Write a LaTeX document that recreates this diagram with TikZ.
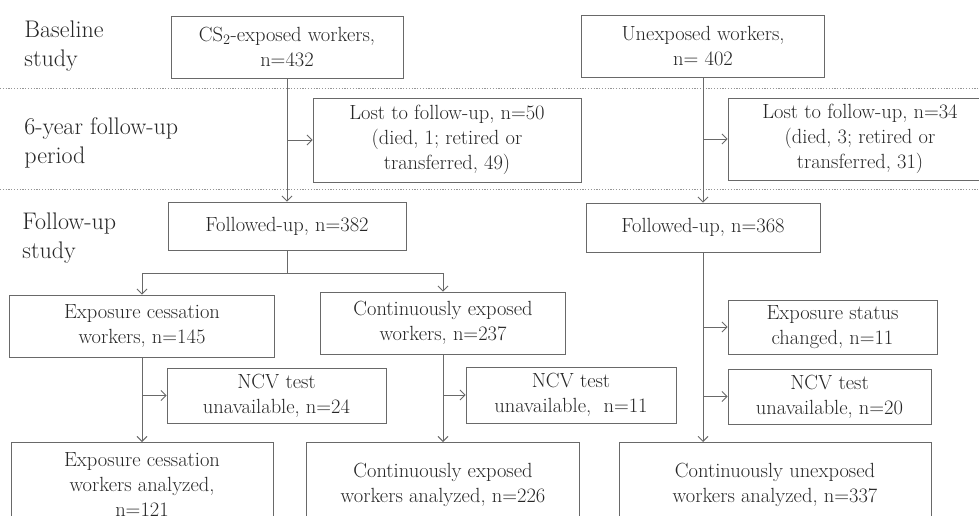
\documentclass[tikz,border=0pt]{standalone}
\usetikzlibrary{arrows.meta}
\definecolor{linegray}{RGB}{105,105,105}
\definecolor{dotgray}{RGB}{150,150,150}
\begin{document}
\begin{tikzpicture}[x=1pt, y=-1pt, line width=0.9pt, >={Straight Barb[length=5pt,width=10pt]},
box/.style={rectangle,draw=linegray,align=center,inner sep=2pt,text=black!85,font=\fontsize{20.5}{25}\selectfont},
stage/.style={anchor=west,align=left,inner sep=0pt,text=black!85,font=\fontsize{24}{29}\selectfont},
dotline/.style={dotgray,line width=0.8pt,dash pattern=on 1.2pt off 1.6pt},
link/.style={linegray,->}]
\useasboundingbox (0,0) rectangle (979,515);
\clip (0,0) rectangle (979,515);
\draw[dotline] (0,88) -- (979,88);
\draw[dotline] (0,189) -- (979,189);
\begin{scope}
\node[stage] (s1) at (24,46) {Baseline\\study};%baseline
\node[stage] (s2) at (24,143) {6-year follow-up\\period};%6 years
\node[stage] (s3) at (22,238) {Follow-up\\study};%follow-up
\end{scope}
\begin{scope}
\node[box,minimum width=232,minimum height=62] (cs) at (287,47) {CS\textsubscript{2}-exposed workers,\\n=432};
\node[box,minimum width=243,minimum height=62] (unexp) at (703,46) {Unexposed workers,\\n= 402};
\node[box,minimum width=268,minimum height=84] (lost1) at (447,140) {Lost to follow-up, n=50\\(died, 1; retired or\\transferred, 49)};
\node[box,minimum width=264,minimum height=82] (lost2) at (860,139) {Lost to follow-up, n=34\\(died, 3; retired or\\transferred, 31)};
\node[box,minimum width=238,minimum height=48] (fu1) at (287,226) {Followed-up, n=382};
\node[box,minimum width=234,minimum height=49] (fu2) at (703,227.5) {Followed-up, n=368};
\node[box,minimum width=265,minimum height=62] (cess) at (142,326) {Exposure cessation\\workers, n=145};
\node[box,minimum width=245,minimum height=62] (cont) at (443,323) {Continuously exposed\\workers, n=237};
\node[box,minimum width=219,minimum height=55] (ncv1) at (276.5,395.5) {NCV test\\unavailable, n=24};
\node[box,minimum width=210,minimum height=56] (ncv2) at (571,395) {NCV test\\unavailable, \ n=11};
\node[box,minimum width=209,minimum height=54] (status) at (832.5,327) {Exposure status\\changed, n=11};
\node[box,minimum width=203,minimum height=55] (ncv3) at (829.5,396.5) {NCV test\\unavailable, n=20};
\node[box,anchor=north,minimum width=262,minimum height=84] (cessA) at (142,442) {Exposure cessation\\workers analyzed,\\n=121};
\node[box,anchor=north,minimum width=273,minimum height=84] (contA) at (443,442) {Continuously exposed\\workers analyzed, n=226};
\node[box,anchor=north,minimum width=312,minimum height=84] (unexpA) at (775,442) {Continuously unexposed\\workers analyzed, n=337};
\coordinate (split) at (287,273);
\end{scope}
\begin{scope}
\draw[link] (cs) -- (fu1);
\draw[link] (cs.south |- lost1.west) -- (lost1.west);
\draw[link] (unexp) -- (fu2);
\draw[link] (unexp.south |- lost2.west) -- (lost2.west);
\draw[linegray] (fu1.south) -- (split);
\draw[link] (split) -| (cess.north);
\draw[link] (split) -| (cont.north);
\draw[link] (cess) -- (cessA);
\draw[link] (cess.south |- ncv1.west) -- (ncv1.west);
\draw[link] (cont) -- (contA);
\draw[link] (cont.south |- ncv2.west) -- (ncv2.west);
\draw[link] (fu2.south) -- (fu2.south |- unexpA.north);
\draw[link] (fu2.south |- status.west) -- (status.west);
\draw[link] (fu2.south |- ncv3.west) -- (ncv3.west);
%\draw[link] (fu2) -- (status);
\end{scope}
\end{tikzpicture}
\end{document}
